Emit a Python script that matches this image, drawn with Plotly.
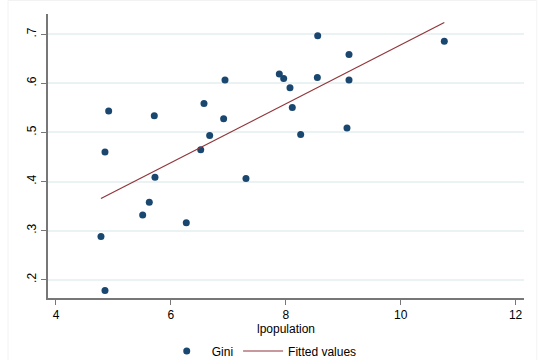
import numpy as np
import plotly.graph_objects as go

lpopulation = [4.853, 4.783, 4.853, 4.917, 5.711, 5.723, 5.624, 5.509, 6.268, 6.519,
               6.576, 6.675, 6.918, 6.942, 7.307, 7.887, 7.963, 8.073, 8.113, 8.259,
               8.555, 8.549, 9.100, 9.100, 9.065, 10.759]
gini = [0.178, 0.288, 0.460, 0.544, 0.534, 0.409, 0.358, 0.332, 0.316, 0.465,
        0.559, 0.494, 0.528, 0.607, 0.406, 0.619, 0.610, 0.591, 0.551, 0.496,
        0.697, 0.612, 0.659, 0.607, 0.509, 0.686]

x = np.array(lpopulation)
y = np.array(gini)
b, a = np.polyfit(x, y, 1)
xs = np.sort(x)
fit = a + b * xs

font = "Liberation Sans, Arial, sans-serif"
fig = go.Figure()
fig.add_trace(go.Scatter(x=lpopulation, y=gini, mode="markers", name="Gini",
                         marker=dict(color="#1a476f", size=7)))
fig.add_trace(go.Scatter(x=xs, y=fit, mode="lines", name="Fitted values",
                         line=dict(color="#90353b", width=1.2)))

fig.update_layout(
    width=540, height=360,
    margin=dict(l=48, r=16, t=14, b=62, autoexpand=False),
    paper_bgcolor="white", plot_bgcolor="white",
    font=dict(family=font, size=12, color="#000"),
    showlegend=True,
    legend=dict(orientation="h", x=0.449, xanchor="center", yref="container",
                y=0.025, yanchor="middle", font=dict(size=12), itemwidth=40),
    shapes=[dict(type="rect", xref="paper", yref="paper", x0=-0.084, x1=1.027,
                 y0=-0.3, y1=1.0475, line=dict(color="#f2f2f2", width=1),
                 layer="below")],
)
fig.update_xaxes(range=[3.861, 12.146], tickvals=[4, 6, 8, 10, 12], automargin=False,
                 showgrid=False, zeroline=False, showline=True, linecolor="#777",
                 linewidth=1.5, ticks="outside", ticklen=5, tickcolor="#777",
                 title=dict(text="lpopulation", standoff=2, font=dict(size=12)))
fig.update_yaxes(range=[0.1627, 0.7414], tickvals=[0.2, 0.3, 0.4, 0.5, 0.6, 0.7],
                 ticktext=[".2", ".3", ".4", ".5", ".6", ".7"], tickangle=-90,
                 automargin=False,
                 showgrid=True, gridcolor="#eaf2f3", gridwidth=1.5, zeroline=False,
                 showline=True, linecolor="#777", linewidth=1.5, ticks="outside",
                 ticklen=5, tickcolor="#777")
fig.write_html("out.html")
